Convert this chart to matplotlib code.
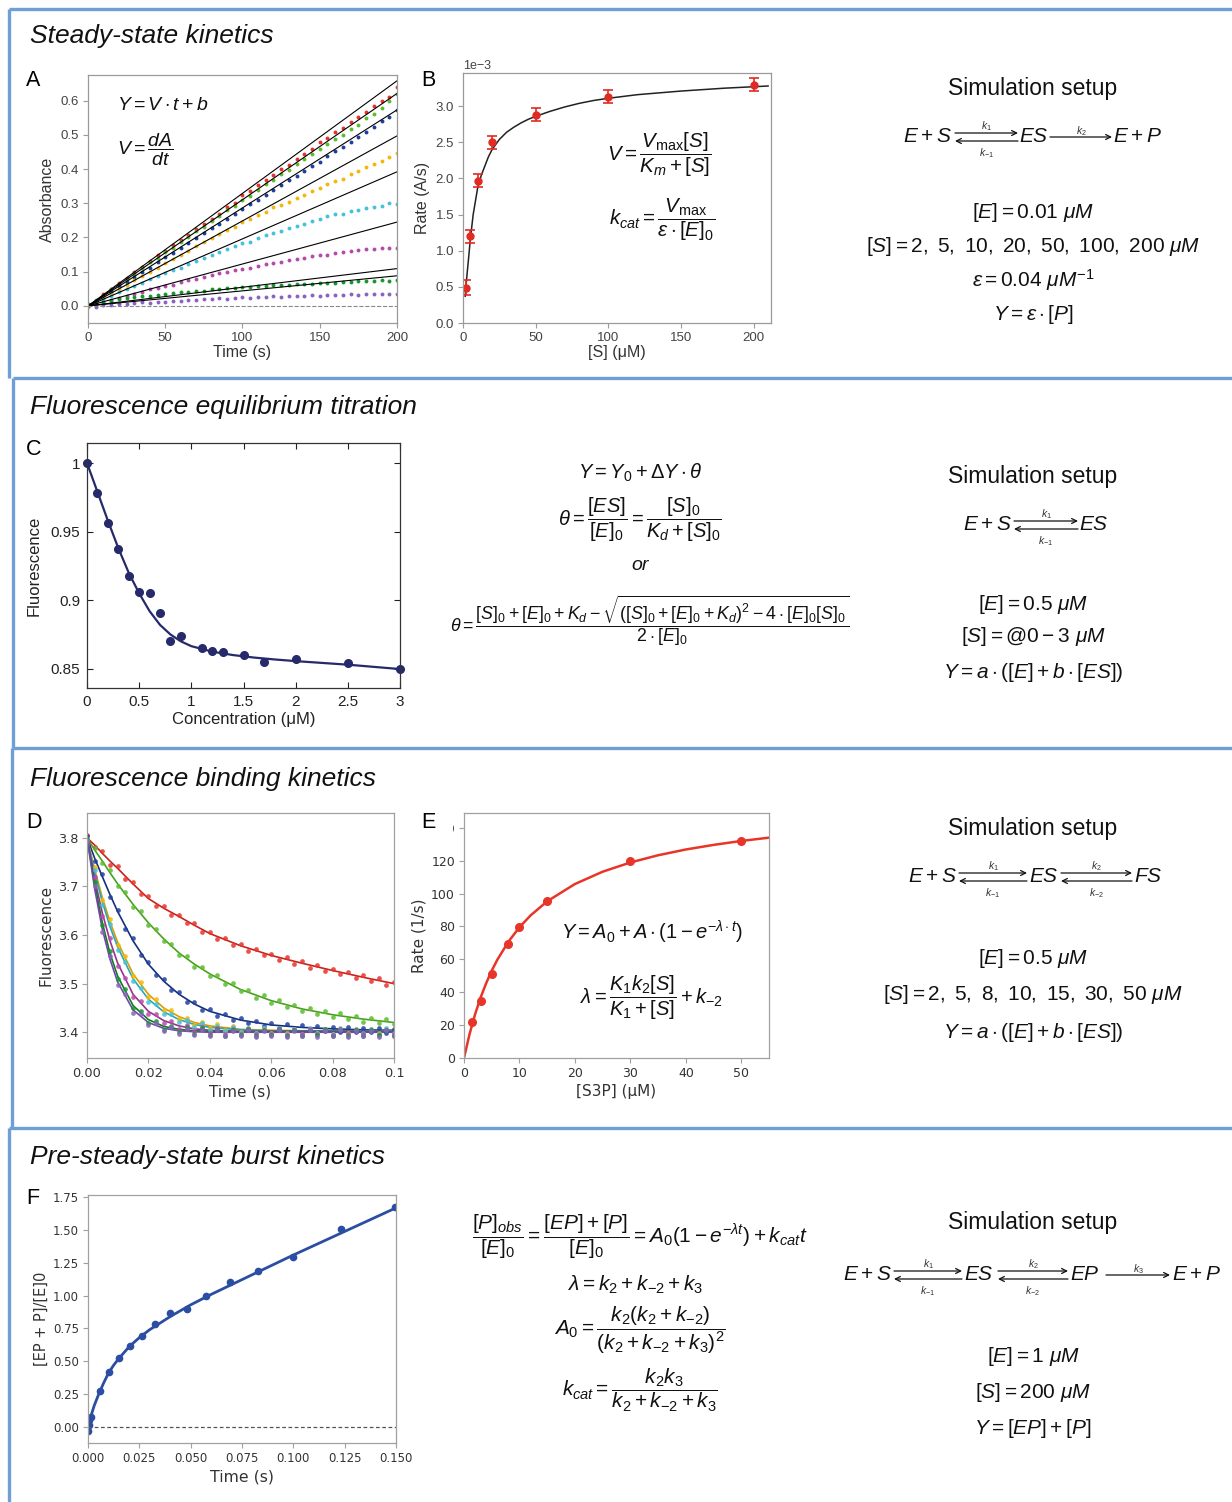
import numpy as np
import matplotlib.pyplot as plt
from matplotlib.patches import Rectangle

W, H = 1232, 1502
plt.rcParams['font.family'] = ['Liberation Sans', 'DejaVu Sans']
plt.rcParams['mathtext.fontset'] = 'custom'
plt.rcParams['mathtext.rm'] = 'Liberation Sans'
plt.rcParams['mathtext.it'] = 'Liberation Sans:italic'
plt.rcParams['mathtext.bf'] = 'Liberation Sans:bold'

# ---------------- data ----------------
# A: absorbance traces, one per [S], sampled every 5 s
t_abs = list(range(0, 201, 5))
abs_red = [0.003, 0.015, 0.035, 0.048, 0.066, 0.083, 0.098, 0.113, 0.130, 0.148, 0.160, 0.178, 0.192, 0.207,
           0.226, 0.240, 0.255, 0.270, 0.290, 0.302, 0.325, 0.335, 0.352, 0.368, 0.382, 0.400, 0.412, 0.430,
           0.445, 0.460, 0.478, 0.492, 0.508, 0.520, 0.538, 0.552, 0.568, 0.585, 0.598, 0.612, 0.640]
abs_lime = [0.005, 0.018, 0.030, 0.050, 0.062, 0.080, 0.092, 0.110, 0.128, 0.140, 0.158, 0.170, 0.188, 0.200,
            0.218, 0.232, 0.248, 0.262, 0.280, 0.292, 0.310, 0.322, 0.340, 0.355, 0.368, 0.385, 0.398, 0.415,
            0.428, 0.445, 0.458, 0.472, 0.488, 0.500, 0.518, 0.530, 0.548, 0.562, 0.578, 0.600, 0.620]
abs_blue = [0.002, 0.015, 0.030, 0.042, 0.058, 0.070, 0.085, 0.100, 0.112, 0.128, 0.142, 0.155, 0.170, 0.185,
            0.198, 0.212, 0.228, 0.240, 0.255, 0.270, 0.282, 0.298, 0.310, 0.325, 0.340, 0.352, 0.368, 0.380,
            0.395, 0.410, 0.422, 0.438, 0.452, 0.465, 0.480, 0.495, 0.508, 0.522, 0.540, 0.552, 0.572]
abs_gold = [-0.003, 0.010, 0.026, 0.036, 0.050, 0.062, 0.075, 0.088, 0.100, 0.112, 0.125, 0.136, 0.150, 0.160,
            0.175, 0.186, 0.198, 0.210, 0.222, 0.232, 0.245, 0.255, 0.265, 0.275, 0.288, 0.294, 0.305, 0.315,
            0.325, 0.335, 0.345, 0.355, 0.365, 0.372, 0.385, 0.395, 0.405, 0.415, 0.425, 0.435, 0.448]
abs_cyan = [0.002, 0.010, 0.020, 0.030, 0.040, 0.050, 0.058, 0.068, 0.078, 0.088, 0.096, 0.105, 0.112, 0.122,
            0.130, 0.140, 0.148, 0.158, 0.165, 0.175, 0.185, 0.188, 0.198, 0.208, 0.212, 0.220, 0.228, 0.235,
            0.240, 0.248, 0.255, 0.262, 0.268, 0.270, 0.278, 0.280, 0.285, 0.290, 0.292, 0.300, 0.298]
abs_mag = [0.000, 0.006, 0.012, 0.018, 0.024, 0.030, 0.036, 0.040, 0.048, 0.052, 0.058, 0.062, 0.070, 0.075,
           0.080, 0.085, 0.090, 0.095, 0.100, 0.105, 0.108, 0.112, 0.118, 0.122, 0.125, 0.128, 0.135, 0.138,
           0.140, 0.145, 0.148, 0.150, 0.155, 0.158, 0.160, 0.162, 0.165, 0.165, 0.168, 0.168, 0.170]
abs_green = [0.005, 0.008, 0.012, 0.015, 0.020, 0.022, 0.025, 0.028, 0.030, 0.032, 0.035, 0.038, 0.040, 0.040,
             0.045, 0.045, 0.048, 0.050, 0.052, 0.052, 0.055, 0.055, 0.058, 0.058, 0.060, 0.062, 0.060, 0.063,
             0.065, 0.065, 0.066, 0.068, 0.068, 0.070, 0.070, 0.072, 0.072, 0.074, 0.075, 0.073, 0.075]
abs_purple = [0.000, -0.002, 0.002, 0.004, 0.005, 0.006, 0.008, 0.010, 0.008, 0.012, 0.012, 0.014, 0.015, 0.018,
              0.017, 0.020, 0.020, 0.022, 0.020, 0.024, 0.025, 0.024, 0.026, 0.027, 0.028, 0.027, 0.030, 0.028,
              0.030, 0.032, 0.030, 0.032, 0.033, 0.032, 0.035, 0.033, 0.035, 0.034, 0.036, 0.035, 0.036]
abs_traces = [abs_red, abs_lime, abs_blue, abs_gold, abs_cyan, abs_mag, abs_green, abs_purple]
abs_fit_end = [0.658, 0.621, 0.573, 0.497, 0.392, 0.245, 0.109, 0.088]   # initial-rate lines, A at t = 200 s
fit_t = [0, 200]

# B: Michaelis-Menten
s_conc = [2, 5, 10, 20, 50, 100, 200]
rate_b = [0.49, 1.20, 1.97, 2.50, 2.88, 3.13, 3.30]      # x 1e-3 A/s
rate_b_err = [0.10, 0.09, 0.09, 0.09, 0.09, 0.09, 0.09]
s_fit_b = [1.5, 2, 3, 4, 5, 7, 10, 12.5, 15, 17.5, 20, 25, 30, 35, 40, 45, 50, 60, 70, 80, 90, 100, 120,
           150, 180, 210]
rate_fit_b = [0.37, 0.50, 0.72, 0.93, 1.15, 1.50, 1.86, 2.04, 2.17, 2.30, 2.40, 2.54, 2.64, 2.71, 2.77,
              2.82, 2.86, 2.93, 2.99, 3.04, 3.08, 3.11, 3.16, 3.21, 3.25, 3.28]

# C: equilibrium titration
conc_c = [0, 0.1, 0.2, 0.3, 0.4, 0.5, 0.6, 0.7, 0.8, 0.9, 1.1, 1.2, 1.3, 1.5, 1.7, 2.0, 2.5, 3.0]
fluo_c = [1.000, 0.978, 0.956, 0.937, 0.918, 0.906, 0.905, 0.891, 0.870, 0.874, 0.865, 0.863, 0.862,
          0.860, 0.855, 0.857, 0.854, 0.850]
conc_fit_c = [0, 0.1, 0.2, 0.3, 0.4, 0.5, 0.6, 0.7, 0.8, 0.9, 1.0, 1.2, 1.4, 1.6, 1.8, 2.0, 2.5, 3.0]
fluo_fit_c = [1.0, 0.979, 0.958, 0.938, 0.920, 0.905, 0.892, 0.882, 0.875, 0.870, 0.8665, 0.8625, 0.8600,
              0.8582, 0.8568, 0.8556, 0.8530, 0.8498]
c_xticklabels = ['0', '0.5', '1', '1.5', '2', '2.5', '3']
c_yticklabels = ['0.85', '0.9', '0.95', '1']

# D: binding kinetics traces (one per [S3P])
t_d = [i * 0.0025 for i in range(41)]
d_red = [3.805, 3.781, 3.772, 3.745, 3.741, 3.716, 3.709, 3.684, 3.680, 3.660, 3.659, 3.641, 3.642, 3.624,
         3.625, 3.606, 3.607, 3.592, 3.594, 3.580, 3.582, 3.568, 3.572, 3.558, 3.561, 3.549, 3.555, 3.541,
         3.546, 3.533, 3.538, 3.526, 3.531, 3.519, 3.524, 3.512, 3.517, 3.505, 3.511, 3.498, 3.503]
d_lime = [3.796, 3.779, 3.748, 3.733, 3.700, 3.689, 3.658, 3.650, 3.620, 3.613, 3.588, 3.582, 3.559, 3.556,
          3.535, 3.534, 3.516, 3.517, 3.499, 3.501, 3.484, 3.487, 3.471, 3.476, 3.460, 3.466, 3.452, 3.457,
          3.443, 3.450, 3.437, 3.444, 3.431, 3.439, 3.427, 3.434, 3.422, 3.430, 3.419, 3.427, 3.416]
d_blue = [3.803, 3.752, 3.725, 3.678, 3.652, 3.612, 3.593, 3.559, 3.545, 3.517, 3.509, 3.486, 3.483, 3.463,
          3.462, 3.445, 3.447, 3.434, 3.438, 3.425, 3.429, 3.418, 3.424, 3.413, 3.419, 3.409, 3.417, 3.406,
          3.414, 3.404, 3.412, 3.403, 3.411, 3.401, 3.410, 3.400, 3.409, 3.400, 3.408, 3.399, 3.407]
d_gold = [3.796, 3.740, 3.672, 3.632, 3.580, 3.556, 3.515, 3.503, 3.473, 3.468, 3.445, 3.445, 3.427, 3.430,
          3.415, 3.421, 3.408, 3.416, 3.404, 3.412, 3.401, 3.409, 3.399, 3.408, 3.398, 3.407, 3.398, 3.407,
          3.397, 3.406, 3.398, 3.407, 3.397, 3.406, 3.398, 3.406, 3.397, 3.407, 3.398, 3.406, 3.397]
d_cyan = [3.795, 3.733, 3.662, 3.622, 3.570, 3.545, 3.505, 3.492, 3.463, 3.459, 3.437, 3.438, 3.421, 3.426,
          3.411, 3.418, 3.405, 3.413, 3.402, 3.411, 3.400, 3.409, 3.398, 3.408, 3.397, 3.408, 3.396, 3.407,
          3.397, 3.408, 3.398, 3.407, 3.396, 3.408, 3.397, 3.407, 3.398, 3.406, 3.397, 3.408, 3.398]
d_mag = [3.792, 3.720, 3.640, 3.594, 3.536, 3.512, 3.472, 3.464, 3.437, 3.437, 3.419, 3.423, 3.407, 3.415,
         3.402, 3.411, 3.398, 3.408, 3.397, 3.407, 3.396, 3.406, 3.397, 3.405, 3.396, 3.406, 3.395, 3.405,
         3.397, 3.406, 3.396, 3.405, 3.395, 3.406, 3.396, 3.405, 3.397, 3.404, 3.395, 3.405, 3.396]
d_green = [3.798, 3.710, 3.620, 3.568, 3.510, 3.488, 3.450, 3.444, 3.420, 3.423, 3.405, 3.413, 3.400, 3.411,
           3.397, 3.408, 3.395, 3.406, 3.393, 3.405, 3.394, 3.407, 3.392, 3.404, 3.394, 3.406, 3.393, 3.405,
           3.392, 3.404, 3.394, 3.406, 3.393, 3.404, 3.392, 3.405, 3.393, 3.404, 3.394, 3.405, 3.393]
d_purple = [3.793, 3.700, 3.606, 3.556, 3.497, 3.478, 3.440, 3.437, 3.414, 3.418, 3.402, 3.410, 3.397, 3.407,
            3.395, 3.405, 3.393, 3.404, 3.392, 3.403, 3.393, 3.404, 3.391, 3.403, 3.392, 3.404, 3.391, 3.403,
            3.392, 3.404, 3.391, 3.403, 3.392, 3.404, 3.391, 3.403, 3.392, 3.403, 3.391, 3.404, 3.392]
d_traces = [d_red, d_lime, d_blue, d_gold, d_cyan, d_mag, d_green, d_purple]

t_fit_d = [0, .0025, .005, .0075, .01, .015, .02, .025, .03, .035, .04, .05, .06, .07, .08, .09, .1]
fit_d = [
    [3.80, 3.785, 3.768, 3.752, 3.737, 3.705, 3.675, 3.655, 3.638, 3.620, 3.603, 3.578, 3.558, 3.542, 3.527, 3.513, 3.50],
    [3.80, 3.775, 3.752, 3.728, 3.705, 3.663, 3.625, 3.592, 3.563, 3.540, 3.520, 3.488, 3.465, 3.448, 3.436, 3.427, 3.420],
    [3.80, 3.758, 3.720, 3.683, 3.648, 3.588, 3.540, 3.505, 3.478, 3.458, 3.443, 3.425, 3.415, 3.410, 3.407, 3.405, 3.404],
    [3.80, 3.735, 3.677, 3.627, 3.585, 3.520, 3.478, 3.450, 3.432, 3.420, 3.413, 3.406, 3.404, 3.403, 3.403, 3.403, 3.403],
    [3.80, 3.728, 3.668, 3.617, 3.575, 3.510, 3.468, 3.442, 3.426, 3.416, 3.410, 3.405, 3.403, 3.403, 3.403, 3.403, 3.403],
    [3.80, 3.715, 3.645, 3.588, 3.542, 3.478, 3.443, 3.424, 3.413, 3.407, 3.404, 3.402, 3.402, 3.402, 3.402, 3.402, 3.402],
    [3.80, 3.705, 3.625, 3.562, 3.515, 3.455, 3.426, 3.412, 3.406, 3.403, 3.402, 3.401, 3.401, 3.401, 3.401, 3.401, 3.401],
    [3.80, 3.695, 3.612, 3.550, 3.503, 3.446, 3.420, 3.408, 3.403, 3.401, 3.400, 3.400, 3.400, 3.400, 3.400, 3.400, 3.400],
]
d_dot_colors = ['#e8322a', '#5dbb2d', '#1f3f9f', '#f4b808', '#45c2d6', '#b44ba9', '#17982f', '#8b62c2']
d_line_colors = ['#c8221c', '#46a11d', '#17307e', '#d99d00', '#2aa6ba', '#96338c', '#0f7a22', '#6e48a6']

# E: observed rate vs [S3P]
s3p = [1.5, 3, 5, 8, 10, 15, 30, 50]
rate_e = [22, 34.5, 51, 69.5, 79.5, 95.5, 120, 132]
s3p_fit = [0, 1, 2, 3, 4, 5, 6, 8, 10, 12, 15, 20, 25, 30, 35, 40, 45, 50, 55]
rate_fit_e = [0, 14.5, 26.6, 36.8, 45.5, 53.1, 59.7, 70.7, 79.5, 86.7, 95.3, 105.8, 113.3, 118.9, 123.3,
              126.8, 129.6, 132.0, 134.0]

# F: burst kinetics
t_f = [0.0, 0.0003, 0.0006, 0.0016, 0.0057, 0.0102, 0.0151, 0.0203, 0.0263, 0.0327, 0.040, 0.048, 0.0574,
       0.069, 0.0826, 0.100, 0.1234, 0.1495]
ep_f = [-0.03, 0.01, 0.05, 0.076, 0.275, 0.42, 0.527, 0.618, 0.694, 0.783, 0.867, 0.898, 1.0, 1.104, 1.19,
        1.292, 1.506, 1.674]
t_fit_f = [0, 0.001, 0.002, 0.003, 0.005, 0.0075, 0.01, 0.0125, 0.015, 0.02, 0.025, 0.03, 0.04, 0.05, 0.06,
           0.08, 0.1, 0.125, 0.15]
ep_fit_f = [0, 0.06, 0.11, 0.16, 0.24, 0.33, 0.41, 0.47, 0.52, 0.61, 0.68, 0.74, 0.84, 0.93, 1.01, 1.16,
            1.31, 1.49, 1.67]

# ---------------- figure ----------------
fig = plt.figure(figsize=(W / 100, H / 100), dpi=100)


def px_axes(l, t, r, b):
    return fig.add_axes([l / W, 1 - b / H, (r - l) / W, (b - t) / H])


def gray_style(ax, family='Liberation Sans', size=9.5, spine='#9a9a9a', tc='#444444'):
    for s in ax.spines.values():
        s.set_color(spine)
        s.set_linewidth(0.9)
    ax.tick_params(color=spine, labelcolor=tc, labelsize=size, length=3.5, width=0.8,
                   labelfontfamily=family, pad=3)


# A
axA = px_axes(88, 75, 397, 323)
for tr, c in zip(abs_traces, d_dot_colors):
    axA.plot(t_abs, tr, 'o', ms=2.8, color=c, mec='none')
for e in abs_fit_end:
    axA.plot(fit_t, [0, e], color='black', lw=0.8)
axA.axhline(0, ls='--', color='#888888', lw=0.8)
axA.set_xlim(0, 200)
axA.set_ylim(-0.05, 0.675)
axA.set_xticks([0, 50, 100, 150, 200])
axA.set_yticks([0, 0.1, 0.2, 0.3, 0.4, 0.5, 0.6])
gray_style(axA)
axA.set_xlabel('Time (s)', fontsize=11.5, color='#333333', labelpad=1)
axA.set_ylabel('Absorbance', fontsize=11.5, color='#333333', labelpad=4)

# B
axB = px_axes(463, 73, 771, 323)
axB.plot(s_fit_b, np.array(rate_fit_b) * 1e-3, color='#222222', lw=1.1)
axB.errorbar(s_conc, np.array(rate_b) * 1e-3, yerr=np.array(rate_b_err) * 1e-3, fmt='o', ms=5,
             color='#e02a22', ecolor='#e02a22', capsize=3.5, elinewidth=1.2, capthick=1.2)
axB.set_xlim(0, 212)
axB.set_ylim(0, 3.46e-3)
axB.set_xticks([0, 50, 100, 150, 200])
axB.set_yticks(np.arange(0, 3.01e-3, 0.5e-3))
axB.ticklabel_format(axis='y', style='sci', scilimits=(-3, -3))
gray_style(axB)
axB.yaxis.get_offset_text().set_fontsize(9)
axB.yaxis.get_offset_text().set_color('#444444')
axB.set_xlabel('[S] (\u03bcM)', fontsize=11.5, color='#333333', labelpad=1)
axB.set_ylabel('Rate (A/s)', fontsize=11.5, color='#333333', labelpad=4)

# C
axC = px_axes(87, 443, 400, 688)
axC.plot(conc_fit_c, fluo_fit_c, color='#262a6b', lw=1.6)
axC.plot(conc_c, fluo_c, 'o', ms=5.5, color='#262a6b', clip_on=False)
axC.set_xlim(0, 3)
axC.set_ylim(0.836, 1.0146)
axC.set_xticks([0, 0.5, 1, 1.5, 2, 2.5, 3])
axC.set_xticklabels(c_xticklabels)
axC.set_yticks([0.85, 0.9, 0.95, 1.0])
axC.set_yticklabels(c_yticklabels)
for s in axC.spines.values():
    s.set_color('#333333')
    s.set_linewidth(0.9)
axC.tick_params(direction='in', top=True, right=True, length=4, width=0.8, labelsize=11,
                colors='#222222', pad=5)
axC.set_xlabel('Concentration (\u03bcM)', fontsize=12, color='#222222', labelpad=2)
axC.set_ylabel('Fluorescence', fontsize=12, color='#222222', labelpad=6)

# D
axD = px_axes(87, 813, 394, 1058)
for fv, c in zip(fit_d, d_line_colors):
    axD.plot(t_fit_d, fv, color=c, lw=1.2)
for tr, c in zip(d_traces, d_dot_colors):
    axD.plot(t_d, tr, 'o', ms=3.4, color=c, mec='none', alpha=0.85)
axD.set_xlim(0, 0.1)
axD.set_ylim(3.347, 3.851)
axD.set_xticks([0, 0.02, 0.04, 0.06, 0.08, 0.1])
axD.set_xticklabels(['0.00', '0.02', '0.04', '0.06', '0.08', '0.1'])
axD.set_yticks([3.4, 3.5, 3.6, 3.7, 3.8])
gray_style(axD, family='DejaVu Sans', size=9.3, spine='#a0a0a0', tc='#333333')
axD.set_xlabel('Time (s)', fontsize=11, color='#333333', family='DejaVu Sans', labelpad=3)
axD.set_ylabel('Fluorescence', fontsize=11, color='#333333', family='DejaVu Sans', labelpad=3)

# E
axE = px_axes(464, 813, 769, 1058)
axE.plot(s3p_fit, rate_fit_e, color='#e8352a', lw=1.8)
axE.plot(s3p, rate_e, 'o', ms=5.5, color='#e8352a')
axE.set_xlim(0, 55)
axE.set_ylim(0, 149)
axE.set_xticks([0, 10, 20, 30, 40, 50])
axE.set_yticks([0, 20, 40, 60, 80, 100, 120, 140])
gray_style(axE, family='DejaVu Sans', size=9, spine='#a0a0a0', tc='#333333')
axE.set_xlabel('[S3P] (\u03bcM)', fontsize=11, color='#333333', family='DejaVu Sans', labelpad=3)
axE.set_ylabel('Rate (1/s)', fontsize=11, color='#333333', family='DejaVu Sans', labelpad=3)

# F
axF = px_axes(88, 1195, 396, 1443)
axF.plot(t_fit_f, ep_fit_f, color='#2b4ea3', lw=2)
axF.plot(t_f, ep_f, 'o', ms=4.5, color='#2b4ea3')
axF.axhline(0, ls=(0, (3, 2)), color='#555555', lw=0.9)
axF.set_xlim(0, 0.15)
axF.set_ylim(-0.124, 1.768)
axF.set_xticks([0, 0.025, 0.05, 0.075, 0.1, 0.125, 0.15])
axF.set_xticklabels(['0.000', '0.025', '0.050', '0.075', '0.100', '0.125', '0.150'])
axF.set_yticks([0, 0.25, 0.5, 0.75, 1.0, 1.25, 1.5, 1.75])
axF.set_yticklabels(['0.00', '0.25', '0.50', '0.75', '1.00', '1.25', '1.50', '1.75'])
gray_style(axF, family='DejaVu Sans', size=8.5, spine='#a0a0a0', tc='#333333')
axF.set_xlabel('Time (s)', fontsize=11.3, color='#333333', family='DejaVu Sans', labelpad=3)
axF.set_ylabel('[EP + P]/[E]0', fontsize=10.5, color='#333333', family='DejaVu Sans', labelpad=3)

# ---------------- overlay: frames, titles, equations ----------------
ax0 = fig.add_axes([0, 0, 1, 1], zorder=10)
ax0.set_xlim(0, W)
ax0.set_ylim(H, 0)
ax0.axis('off')
ax0.patch.set_alpha(0)

frame_c = '#6e9fd6'
for y0, y1, xl in [(9, 378, 9), (378, 748, 13), (748, 1128, 12), (1128, H, 9)]:
    ax0.plot([xl, W], [y0, y0], color=frame_c, lw=2.4, solid_capstyle='butt')
    ax0.plot([xl, xl], [y0, y1], color=frame_c, lw=2.4, solid_capstyle='butt')

for y, s in [(43, 'Steady-state kinetics'), (414, 'Fluorescence equilibrium titration'),
             (786, 'Fluorescence binding kinetics'), (1164, 'Pre-steady-state burst kinetics')]:
    ax0.text(30, y, s, fontsize=19, style='italic', va='baseline', ha='left', color='#111111')

# panel E's label hides most of the top tick label, as in the original layout
ax0.add_patch(Rectangle((419, 804), 34, 30, facecolor='white', edgecolor='none'))
for x, y, s in [(26, 86, 'A'), (421, 86, 'B'), (26, 455, 'C'), (26, 828, 'D'), (421, 828, 'E'), (26, 1204, 'F')]:
    ax0.text(x, y, s, fontsize=15.5, va='baseline', ha='left', color='black')

eq = dict(color='#111111', va='center')
# A / B equations
ax0.text(117, 105, r'$Y=V\cdot t+b$', fontsize=14, ha='left', **eq)
ax0.text(117, 150, r'$V=\dfrac{dA}{dt}$', fontsize=14, ha='left', **eq)
ax0.text(607, 155, r'$V=\dfrac{V_{\rm max}[S]}{K_m+[S]}$', fontsize=14.8, ha='left', **eq)
ax0.text(609, 220, r'$k_{cat}=\dfrac{V_{\rm max}}{\varepsilon\cdot[E]_0}$', fontsize=14.8, ha='left', **eq)
# C equations
ax0.text(640, 473, r'$Y=Y_0+\Delta Y\cdot\theta$', fontsize=14.5, ha='center', **eq)
ax0.text(640, 520, r'$\theta=\dfrac{[ES]}{[E]_0}=\dfrac{[S]_0}{K_d+[S]_0}$', fontsize=14.5, ha='center', **eq)
ax0.text(640, 565, 'or', fontsize=14, style='italic', ha='center', **eq)
ax0.text(650, 621, r'$\theta=\dfrac{[S]_0+[E]_0+K_d-\sqrt{([S]_0+[E]_0+K_d)^2-4\cdot[E]_0[S]_0}}{2\cdot[E]_0}$',
         fontsize=12.8, ha='center', **eq)
# E equations
ax0.text(652, 932, r'$Y=A_0+A\cdot(1-e^{-\lambda\cdot t})$', fontsize=14.5, ha='center', **eq)
ax0.text(651, 998, r'$\lambda=\dfrac{K_1k_2[S]}{K_1+[S]}+k_{-2}$', fontsize=14.5, ha='center', **eq)
# F equations
ax0.text(640, 1237, r'$\dfrac{[P]_{obs}}{[E]_0}=\dfrac{[EP]+[P]}{[E]_0}=A_0(1-e^{-\lambda t})+k_{cat}t$',
         fontsize=15, ha='center', **eq)
ax0.text(636, 1285, r'$\lambda=k_2+k_{-2}+k_3$', fontsize=15, ha='center', **eq)
ax0.text(640, 1330, r'$A_0=\dfrac{k_2(k_2+k_{-2})}{(k_2+k_{-2}+k_3)^2}$', fontsize=15, ha='center', **eq)
ax0.text(640, 1390, r'$k_{cat}=\dfrac{k_2k_3}{k_2+k_{-2}+k_3}$', fontsize=15, ha='center', **eq)

# simulation setup blocks
arr = dict(arrowstyle='->', lw=0.9, color='#111111', shrinkA=0, shrinkB=0, mutation_scale=9)


def fwd_arrow(x0, x1, y, lab):
    ax0.annotate('', xy=(x1, y), xytext=(x0, y), arrowprops=arr)
    ax0.text((x0 + x1) / 2, y - 6, lab, fontsize=7.5, ha='center', va='center', color='#333333')


def rev_arrow(x0, x1, y, top, bot):
    ax0.annotate('', xy=(x1, y - 4), xytext=(x0, y - 4), arrowprops=arr)
    ax0.annotate('', xy=(x0, y + 4), xytext=(x1, y + 4), arrowprops=arr)
    ax0.text((x0 + x1) / 2, y - 11, top, fontsize=7.5, ha='center', va='center', color='#333333')
    ax0.text((x0 + x1) / 2, y + 16, bot, fontsize=7.5, ha='center', va='center', color='#333333')


def species(x, y, s, ha):
    ax0.text(x, y, s, fontsize=15, ha=ha, va='center', color='#111111')


cx = 1033
for y in [89, 476, 829, 1222]:
    ax0.text(cx, y, 'Simulation setup', fontsize=16.5, ha='center', va='center', color='#111111')

# section 1
species(952, 137, r'$E+S$', 'right')
rev_arrow(955, 1018, 137, r'$k_1$', r'$k_{-1}$')
species(1019, 137, r'$ES$', 'left')
fwd_arrow(1050, 1112, 137, r'$k_2$')
species(1113, 137, r'$E+P$', 'left')
for y, s in [(213, r'$[E]=0.01\ \mu M$'), (246, r'$[S]=2,\ 5,\ 10,\ 20,\ 50,\ 100,\ 200\ \mu M$'),
             (280, r'$\varepsilon=0.04\ \mu M^{-1}$'), (314, r'$Y=\varepsilon\cdot[P]$')]:
    ax0.text(cx, y, s, fontsize=15, ha='center', va='center', color='#111111')

# section 2
species(1012, 525, r'$E+S$', 'right')
rev_arrow(1014, 1078, 525, r'$k_1$', r'$k_{-1}$')
species(1079, 525, r'$ES$', 'left')
for y, s in [(604, r'$[E]=0.5\ \mu M$'), (637, r'$[S]=@0-3\ \mu M$'), (672, r'$Y=a\cdot([E]+b\cdot[ES])$')]:
    ax0.text(cx, y, s, fontsize=15, ha='center', va='center', color='#111111')

# section 3
species(957, 877, r'$E+S$', 'right')
rev_arrow(959, 1027, 877, r'$k_1$', r'$k_{-1}$')
species(1029, 877, r'$ES$', 'left')
rev_arrow(1061, 1132, 877, r'$k_2$', r'$k_{-2}$')
species(1134, 877, r'$FS$', 'left')
for y, s in [(959, r'$[E]=0.5\ \mu M$'), (995, r'$[S]=2,\ 5,\ 8,\ 10,\ 15,\ 30,\ 50\ \mu M$'),
             (1032, r'$Y=a\cdot([E]+b\cdot[ES])$')]:
    ax0.text(cx, y, s, fontsize=15, ha='center', va='center', color='#111111')

# section 4
species(892, 1275, r'$E+S$', 'right')
rev_arrow(894, 962, 1275, r'$k_1$', r'$k_{-1}$')
species(964, 1275, r'$ES$', 'left')
rev_arrow(998, 1068, 1275, r'$k_2$', r'$k_{-2}$')
species(1070, 1275, r'$EP$', 'left')
fwd_arrow(1106, 1170, 1275, r'$k_3$')
species(1172, 1275, r'$E+P$', 'left')
for y, s in [(1357, r'$[E]=1\ \mu M$'), (1392, r'$[S]=200\ \mu M$'), (1428, r'$Y=[EP]+[P]$')]:
    ax0.text(cx, y, s, fontsize=15, ha='center', va='center', color='#111111')

fig.savefig('out.png', dpi=100)
